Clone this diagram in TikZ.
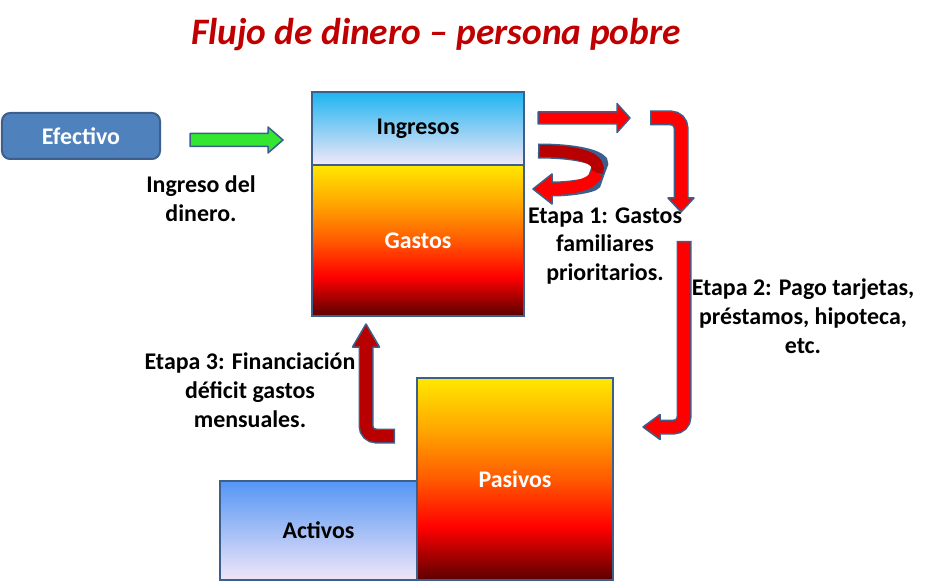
\documentclass[tikz,border=0pt]{standalone}
\usepackage{fontspec}
\setmainfont{Carlito}
\usetikzlibrary{positioning, calc}

\definecolor{boxedge}{RGB}{60,95,140}
\definecolor{cashblue}{RGB}{79,129,189}
\definecolor{titlered}{RGB}{192,0,0}
\definecolor{arrowgreen}{RGB}{50,230,50}
\definecolor{arrowred}{RGB}{255,0,0}
\definecolor{arrowdark}{RGB}{185,0,0}
\definecolor{ingtop}{RGB}{30,180,240}
\definecolor{ingbot}{RGB}{243,232,248}
\definecolor{acttop}{RGB}{85,150,245}
\definecolor{actmid}{RGB}{150,195,248}
\definecolor{actbot}{RGB}{240,230,248}
\definecolor{hotdark}{RGB}{90,0,0}
\definecolor{hotred}{RGB}{255,0,0}
\definecolor{hotorange}{RGB}{255,90,0}
\definecolor{hotamber}{RGB}{255,165,0}
\definecolor{hotyellow}{RGB}{255,232,0}

% bottom (25bp) to top (75bp)
\pgfdeclareverticalshading{hotfill}{100bp}{color(0bp)=(hotdark); color(25bp)=(hotdark);
  color(38bp)=(hotred); color(50bp)=(hotorange); color(62bp)=(hotamber);
  color(75bp)=(hotyellow); color(100bp)=(hotyellow)}

\begin{document}
\begin{tikzpicture}[
  x=1bp, y=-1bp,
  box/.style={rectangle, draw=boxedge, line width=2bp, inner sep=0pt, outer sep=0pt,
              font=\fontsize{24}{29}\selectfont\bfseries},
  lbl/.style={align=center, font=\fontsize{24}{29}\selectfont\bfseries},
  blockedge/.style={draw=boxedge, line width=1.5bp, line join=round},
  bandedge/.style={draw=boxedge, line width=15bp, rounded corners=10bp},
  bandfill/.style={line width=12bp, rounded corners=10bp},
]
\useasboundingbox (0,0) rectangle (930,584);

% Title
\node[font=\fontsize{37.5}{42}\selectfont\bfseries\itshape, text=titlered] (titulo) at (436,35)
  {Flujo de dinero – persona pobre};

% Boxes
\node[box, rounded corners=8bp, fill=cashblue, text=white,
      minimum width=158bp, minimum height=46bp] at (81,136) (efectivo) {Efectivo};
\node[box, top color=ingtop, bottom color=ingbot,
      minimum width=212bp, minimum height=73bp] at (418,128.5) (ingresos) {Ingresos};
\node[box, shading=hotfill, text=white,
      minimum width=212bp, minimum height=151bp, below=0pt of ingresos] (gastos) {Gastos};
\node[box, shading=hotfill, text=white,
      minimum width=196bp, minimum height=202bp] at (515,479) (pasivos) {Pasivos};
\node[box, top color=acttop, middle color=actmid, bottom color=actbot,
      minimum width=197bp, minimum height=99bp, anchor=south east] at (pasivos.south west) (activos) {Activos};

% Labels
\node[lbl] at (201,199) (ingreso) {Ingreso del\\dinero.};
\node[lbl] at (605,246) (etapa1) {Etapa 1: Gastos\\familiares\\prioritarios.};
\node[lbl] at (803,316) (etapa2) {Etapa 2: Pago tarjetas,\\préstamos, hipoteca,\\etc.};
\node[lbl] at (250,390) (etapa3) {Etapa 3: Financiación\\déficit gastos\\mensuales.};

% Arrow ends
\coordinate (inA)   at (190,140);
\coordinate (inB)   at (283,140);
\coordinate (outA)  at (538,118);
\coordinate (outB)  at (630,118);
\coordinate (loopA) at (538,151);
\coordinate (loopM) at (597,173);
\coordinate (loopB) at (552,189);
\coordinate (loopT) at (533,189);
\coordinate (b1A)   at (650,118);
\coordinate (b1T)   at (681,212);
\coordinate (b2A)   at (684,241);
\coordinate (b2T)   at (643,427);
\coordinate (b3A)   at (395,436);
\coordinate (b3T)   at (366,324);

% Ingreso del dinero (green)
\draw[blockedge, fill=arrowgreen] ($(inA)+(0,-6.5)$) -- ($(inB)+(-15,-6.5)$) -- ($(inB)+(-15,-13)$)
  -- (inB) -- ($(inB)+(-15,13)$) -- ($(inB)+(-15,6.5)$) -- ($(inA)+(0,6.5)$) -- cycle;

% Straight red arrow out of Ingresos
\draw[blockedge, fill=arrowred] ($(outA)+(0,-6)$) -- ($(outB)+(-13,-6)$) -- ($(outB)+(-13,-14.5)$)
  -- (outB) -- ($(outB)+(-13,14.5)$) -- ($(outB)+(-13,6)$) -- ($(outA)+(0,6)$) -- cycle;

% Etapa 1: loop back to Gastos
\draw[blockedge, fill=arrowred] (loopT) -- ++(19,-15) -- ++(0,30) -- cycle;
\draw[bandedge] (loopA) .. controls (585,151) and (602,160) .. (loopM)
  .. controls (593,185) and (572,189) .. (loopB);
\draw[bandfill, draw=arrowdark, shorten <=1.5bp] (loopA) .. controls (585,151) and (602,160) .. (loopM);
\draw[bandfill, draw=arrowred, shorten >=-2bp] (loopM) .. controls (593,185) and (572,189) .. (loopB);

% Bent arrow down to Etapa 1
\draw[blockedge, fill=arrowred] (b1T) -- ++(-13,-14) -- ++(26,0) -- cycle;
\draw[bandedge] (b1A) -| ($(b1T)+(0,-14)$);
\draw[bandfill, draw=arrowred, shorten <=1.5bp, shorten >=-2bp] (b1A) -| ($(b1T)+(0,-14)$);

% Etapa 2: down to Pasivos
\draw[blockedge, fill=arrowred] (b2T) -- ++(17,-12.5) -- ++(0,25) -- cycle;
\draw[bandedge] (b2A) |- ($(b2T)+(17,0)$);
\draw[bandfill, draw=arrowred, shorten <=1.5bp, shorten >=-2bp] (b2A) |- ($(b2T)+(17,0)$);

% Etapa 3: up to Gastos
\draw[blockedge, fill=arrowdark] (b3T) -- ++(-13.5,23) -- ++(27,0) -- cycle;
\draw[bandedge] (b3A) -| ($(b3T)+(0,23)$);
\draw[bandfill, draw=arrowdark, shorten <=1.5bp, shorten >=-2bp] (b3A) -| ($(b3T)+(0,23)$);
\end{tikzpicture}
\end{document}
